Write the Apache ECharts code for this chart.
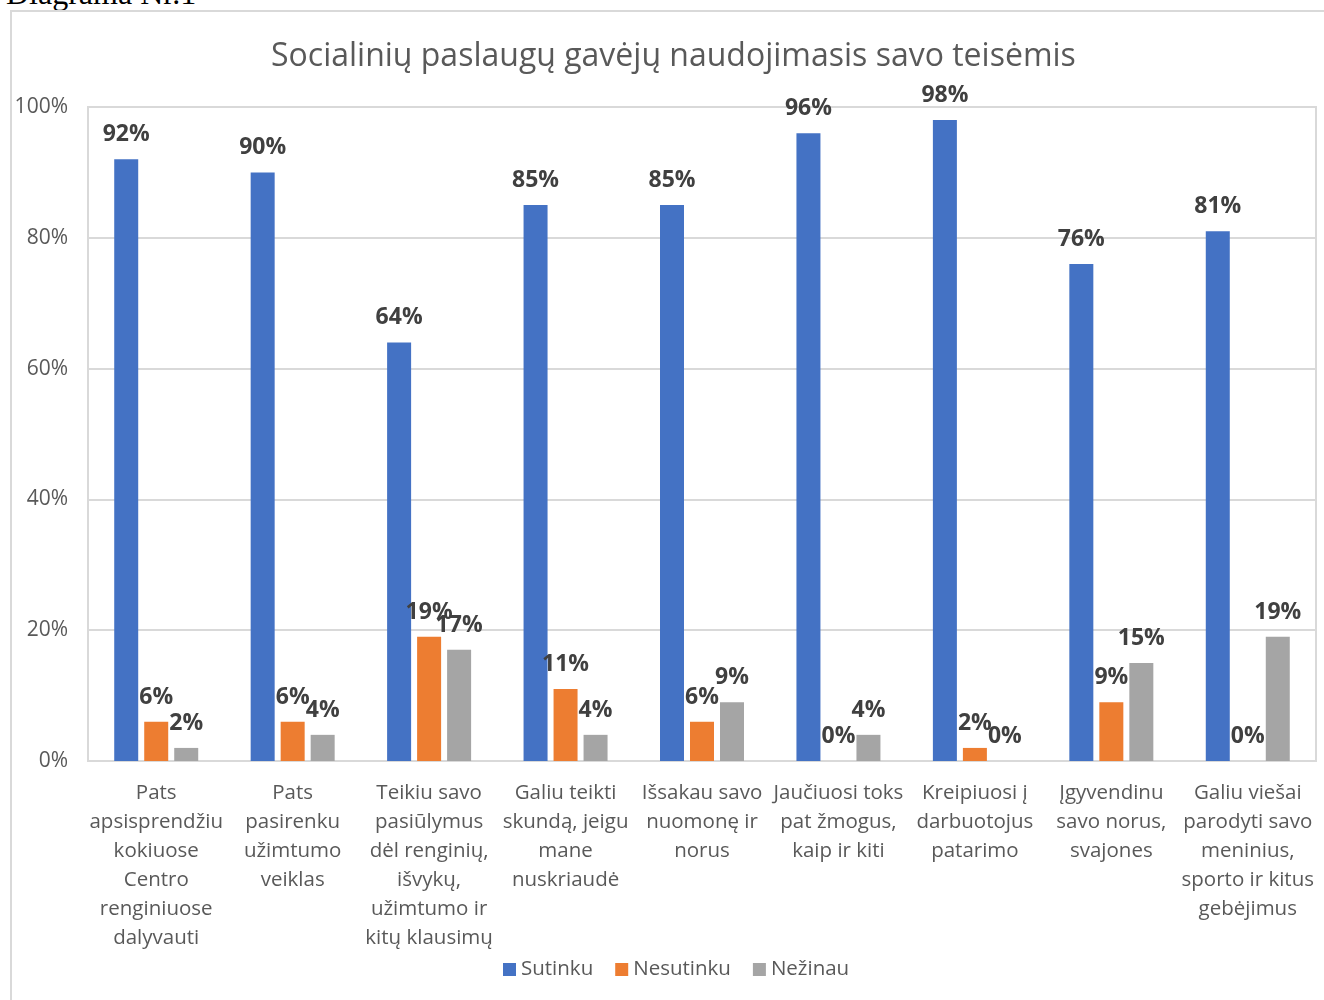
<!DOCTYPE html>
<html>
<head>
<meta charset="utf-8" />
<title>Diagrama Nr.1</title>
<style>
    body { margin: 0; background: #fff; overflow: hidden; }
    .note {
        position: absolute; left: 6px; top: -23px; line-height: 32px;
        font-family: "Liberation Serif", serif; font-size: 32px; color: #000;
    }
    .chart_box {
        position: absolute; left: 10px; top: 10px;
        width: 1330px; height: 1010px;
        border: 2px solid #d9d9d9; box-sizing: border-box;
    }
    #chart { position: absolute; left: 0; top: 0; width: 1324px; height: 1000px; }
</style>
<script src="https://cdn.jsdelivr.net/npm/echarts@6/dist/echarts.min.js"></script>
</head>
<body>
<div class="note">Diagrama Nr.1</div>
<div class="chart_box"></div>
<div id="chart"></div>
<script>
// kategorijos (su eilučių laužymu kaip originale)
var categories = [
    'Pats\napsisprendžiu\nkokiuose\nCentro\nrenginiuose\ndalyvauti',
    'Pats\npasirenku\nužimtumo\nveiklas',
    'Teikiu savo\npasiūlymus\ndėl renginių,\nišvykų,\nužimtumo ir\nkitų klausimų',
    'Galiu teikti\nskundą, jeigu\nmane\nnuskriaudė',
    'Išsakau savo\nnuomonę ir\nnorus',
    'Jaučiuosi toks\npat žmogus,\nkaip ir kiti',
    'Kreipiuosi į\ndarbuotojus\npatarimo',
    'Įgyvendinu\nsavo norus,\nsvajones',
    'Galiu viešai\nparodyti savo\nmeninius,\nsporto ir kitus\ngebėjimus'
];
var sutinku   = [92, 90, 64, 85, 85, 96, 98, 76, 81];
var nesutinku = [6, 6, 19, 11, 6, 0, 2, 9, 0];
var nezinau   = [2, 4, 17, 4, 9, 4, 0, 15, 19];
var yTicks = [0, 20, 40, 60, 80, 100];

var font = 'Open Sans';
var labelStyle = {
    show: true, position: 'top', distance: 13,
    formatter: '{c}%', fontFamily: font, fontSize: 23, fontWeight: 'bold', color: '#404040'
};

function bar(name, data, color) {
    return {
        name: name, type: 'bar', data: data,
        barWidth: 24, barGap: '25%',
        itemStyle: { color: color },
        label: labelStyle
    };
}

var option = {
    animation: false,
    title: {
        text: 'Socialinių paslaugų gavėjų naudojimasis savo teisėmis',
        left: 266, top: 36,
        textStyle: { fontFamily: font, fontSize: 32, fontWeight: 'normal', color: '#595959' }
    },
    legend: {
        bottom: 15, left: 498,
        itemWidth: 13, itemHeight: 13, itemGap: 22,
        icon: 'rect',
        textStyle: { fontFamily: font, fontSize: 20.5, color: '#595959' },
        data: ['Sutinku', 'Nesutinku', 'Nežinau']
    },
    grid: {
        left: 88, right: 8, top: 107, bottom: 239,
        show: true, borderColor: '#d9d9d9', borderWidth: 2
    },
    xAxis: {
        type: 'category', data: categories,
        axisLine: { lineStyle: { color: '#d9d9d9', width: 2 } },
        axisTick: { show: false },
        axisLabel: {
            interval: 0, margin: 18, fontFamily: font, fontSize: 20.5,
            lineHeight: 29, color: '#595959'
        }
    },
    yAxis: {
        type: 'value', min: yTicks[0], max: yTicks[yTicks.length - 1], interval: 20,
        axisLine: { show: false },
        axisTick: { show: false },
        splitLine: { lineStyle: { color: '#d9d9d9', width: 2 } },
        axisLabel: {
            margin: 20, fontFamily: font, fontSize: 21, color: '#595959',
            formatter: '{value}%'
        }
    },
    series: [
        bar('Sutinku', sutinku, '#4472c4'),
        bar('Nesutinku', nesutinku, '#ed7d31'),
        bar('Nežinau', nezinau, '#a5a5a5')
    ]
};

var echart = echarts.init(document.getElementById('chart'));
echart.setOption(option);
</script>
</body>
</html>
